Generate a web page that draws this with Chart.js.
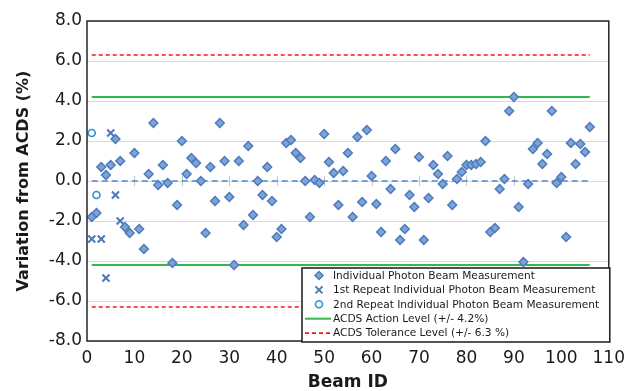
<!DOCTYPE html>
<html>
<head>
<meta charset="utf-8">
<script src="https://cdn.jsdelivr.net/npm/chart.js@4.4.1/dist/chart.umd.min.js"></script>
<style>
  html, body { margin: 0; padding: 0; background: #fff; }
  #wrap { width: 632px; height: 391px; }
</style>
</head>
<body>
<div id="wrap"><canvas id="beamChart" width="632" height="391"></canvas></div>
<script>
// beam IDs (x) and variation from ACDS in % (y)
const beamIds = [
  1, 2, 3, 4, 5, 6, 7, 8, 9, 10, 11, 12, 13, 14, 15, 16, 17, 18, 19, 20,
  21, 22, 23, 24, 25, 26, 27, 28, 29, 30, 31, 32, 33, 34, 35, 36, 37, 38, 39, 40,
  41, 42, 43, 44, 45, 46, 47, 48, 49, 50, 51, 52, 53, 54, 55, 56, 57, 58, 59, 60,
  61, 62, 63, 64, 65, 66, 67, 68, 69, 70, 71, 72, 73, 74, 75, 76, 77, 78, 79, 80,
  81, 82, 83, 84, 85, 86, 87, 88, 89, 90, 91, 92, 93, 94, 95, 96, 97, 98, 99, 100,
  101, 102, 103, 104, 105, 106
];
const variation = [
  -1.8, -1.6, 0.7, 0.3, 0.8, 2.1, 1.0, -2.3, -2.6, 1.4,
  -2.4, -3.4, 0.35, 2.9, -0.2, 0.8, -0.1, -4.1, -1.2, 2.0,
  0.35, 1.15, 0.9, 0.0, -2.6, 0.7, -1.0, 2.9, 1.0, -0.8,
  -4.2, 1.0, -2.2, 1.75, -1.7, 0.0, -0.7, 0.7, -1.0, -2.8,
  -2.4, 1.9, 2.05, 1.4, 1.15, 0.0, -1.8, 0.05, -0.1, 2.35,
  0.95, 0.4, -1.2, 0.5, 1.4, -1.8, 2.2, -1.05, 2.55, 0.25,
  -1.15, -2.55, 1.0, -0.4, 1.6, -2.95, -2.4, -0.7, -1.3, 1.2,
  -2.95, -0.85, 0.8, 0.35, -0.15, 1.25, -1.2, 0.1, 0.45, 0.8,
  0.8, 0.85, 0.95, 2.0, -2.55, -2.35, -0.4, 0.1, 3.5, 4.2,
  -1.3, -4.05, -0.15, 1.6, 1.9, 0.85, 1.35, 3.5, -0.1, 0.2,
  -2.8, 1.9, 0.85, 1.85, 1.45, 2.7
];

const repeat1Ids = [1, 3, 4, 5, 6, 7];
const repeat1Values = [-2.9, -2.9, -4.85, 2.4, -0.7, -2.0];
const repeat2Ids = [1, 2];
const repeat2Values = [2.4, -0.7];

const actionLevel = 4.2;
const toleranceLevel = 6.3;
const levelBeams = [1, 106];   // first and last beam, where the level lines run

const yTicks = [-8, -6, -4, -2, 0, 2, 4, 6, 8];
const xTicks = [0, 10, 20, 30, 40, 50, 60, 70, 80, 90, 100, 110];

const labels = {
  single: "Individual Photon Beam Measurement",
  rep1: "1st Repeat Individual Photon Beam Measurement",
  rep2: "2nd Repeat Individual Photon Beam Measurement",
  action: "ACDS Action Level (+/- 4.2%)",
  tolerance: "ACDS Tolerance Level (+/- 6.3 %)"
};

const diamondFill = "#7ea3d8";
const diamondEdge = "#4f7cbc";
const crossColor = "#4a78b8";
const ringColor = "#2f8fd0";
const green = "#33b84f";
const red = "#ff1414";
const zeroBlue = "#4f89cc";

const toPts = (xs, ys) => xs.map((x, i) => ({ x: x, y: ys[i] }));
const levelLine = (v) => levelBeams.map((b) => ({ x: b, y: v }));

// little gray marks where the x axis crosses zero
const zeroTicks = {
  id: "zeroTicks",
  beforeDatasetsDraw(chart) {
    const { ctx, scales: { x, y } } = chart;
    const y0 = y.getPixelForValue(0);
    ctx.save();
    ctx.strokeStyle = "#c4c4c4";
    ctx.lineWidth = 1;
    xTicks.slice(1, -1).forEach((v) => {
      const px = Math.round(x.getPixelForValue(v)) + 0.5;
      ctx.beginPath();
      ctx.moveTo(px, y0 - 5);
      ctx.lineTo(px, y0 + 5);
      ctx.stroke();
    });
    ctx.restore();
  }
};

// frame round the plot + boxed legend in the bottom right corner
const frameAndLegend = {
  id: "frameAndLegend",
  afterDraw(chart) {
    const { ctx, chartArea: a } = chart;
    ctx.save();
    ctx.strokeStyle = "#262626";
    ctx.lineWidth = 1.5;
    ctx.strokeRect(a.left, a.top, a.right - a.left, a.bottom - a.top);

    const left = 302, top = 268, right = a.right + 1, bottom = a.bottom + 1;
    ctx.fillStyle = "#fff";
    ctx.fillRect(left, top, right - left, bottom - top);
    ctx.strokeStyle = "#262626";
    ctx.lineWidth = 1.6;
    ctx.strokeRect(left, top, right - left, bottom - top);

    const items = [
      { text: labels.single, kind: "diamond" },
      { text: labels.rep1, kind: "cross" },
      { text: labels.rep2, kind: "ring" },
      { text: labels.action, kind: "solid" },
      { text: labels.tolerance, kind: "dashed" }
    ];
    const mx = 319, lx0 = 305, lx1 = 331, tx = 333;
    ctx.font = "10.6px 'DejaVu Sans'";
    ctx.textBaseline = "middle";
    items.forEach((it, i) => {
      const yy = 275.5 + i * 14.4;
      ctx.save();
      if (it.kind === "diamond") {
        ctx.beginPath();
        ctx.moveTo(mx, yy - 4); ctx.lineTo(mx + 4, yy); ctx.lineTo(mx, yy + 4); ctx.lineTo(mx - 4, yy);
        ctx.closePath();
        ctx.fillStyle = diamondFill; ctx.strokeStyle = diamondEdge; ctx.lineWidth = 1.5;
        ctx.fill(); ctx.stroke();
      } else if (it.kind === "cross") {
        ctx.strokeStyle = crossColor; ctx.lineWidth = 2;
        ctx.beginPath();
        ctx.moveTo(mx - 3.5, yy - 3.5); ctx.lineTo(mx + 3.5, yy + 3.5);
        ctx.moveTo(mx + 3.5, yy - 3.5); ctx.lineTo(mx - 3.5, yy + 3.5);
        ctx.stroke();
      } else if (it.kind === "ring") {
        ctx.strokeStyle = ringColor; ctx.lineWidth = 1.6;
        ctx.beginPath(); ctx.arc(mx, yy, 3.5, 0, Math.PI * 2); ctx.stroke();
      } else {
        ctx.strokeStyle = it.kind === "solid" ? green : red;
        ctx.lineWidth = it.kind === "solid" ? 2 : 1.6;
        if (it.kind === "dashed") ctx.setLineDash([4, 3]);
        ctx.beginPath(); ctx.moveTo(lx0, yy); ctx.lineTo(lx1, yy); ctx.stroke();
      }
      ctx.restore();
      ctx.fillStyle = "#1a1a1a";
      ctx.fillText(it.text, tx, yy + 0.5);
    });
    ctx.restore();
  }
};

const ctx = document.getElementById("beamChart").getContext("2d");

new Chart(ctx, {
  type: "scatter",
  data: {
    datasets: [
      {
        label: labels.single,
        data: toPts(beamIds, variation),
        pointStyle: "rectRot",
        pointRadius: 4.4,
        backgroundColor: diamondFill,
        borderColor: diamondEdge,
        borderWidth: 1.5
      },
      {
        label: labels.rep1,
        data: toPts(repeat1Ids, repeat1Values),
        pointStyle: "crossRot",
        pointRadius: 5,
        borderColor: crossColor,
        borderWidth: 2
      },
      {
        label: labels.rep2,
        data: toPts(repeat2Ids, repeat2Values),
        pointStyle: "circle",
        pointRadius: 3.5,
        backgroundColor: "#fff",
        borderColor: ringColor,
        borderWidth: 1.6
      },
      {
        label: labels.action,
        data: levelLine(actionLevel),
        showLine: true, pointRadius: 0, borderColor: green, borderWidth: 2
      },
      {
        label: labels.action,
        data: levelLine(-actionLevel),
        showLine: true, pointRadius: 0, borderColor: green, borderWidth: 2
      },
      {
        label: labels.tolerance,
        data: levelLine(toleranceLevel),
        showLine: true, pointRadius: 0, borderColor: red, borderWidth: 1.6, borderDash: [4, 3]
      },
      {
        label: labels.tolerance,
        data: levelLine(-toleranceLevel),
        showLine: true, pointRadius: 0, borderColor: red, borderWidth: 1.6, borderDash: [4, 3]
      },
      {
        label: "zero",
        data: levelLine(0),
        showLine: true, pointRadius: 0, borderColor: zeroBlue, borderWidth: 1.5, borderDash: [6, 4]
      }
    ]
  },
  options: {
    responsive: false,
    animation: false,
    layout: { padding: { top: 21, right: 18, left: 0, bottom: 0 } },
    plugins: {
      legend: { display: false },
      tooltip: { enabled: false }
    },
    scales: {
      x: {
        type: "linear",
        min: 0,
        max: 110,
        afterBuildTicks: (s) => { s.ticks = xTicks.map((v) => ({ value: v })); },
        afterFit: (s) => { s.height = 50; },
        grid: { display: false, drawTicks: false },
        border: { display: false },
        ticks: {
          padding: 7,
          maxRotation: 0,
          color: "#1a1a1a",
          font: { family: "'DejaVu Sans'", size: 17 }
        },
        title: {
          display: true,
          text: "Beam ID",
          color: "#1a1a1a",
          padding: { top: 0, bottom: 0 },
          font: { family: "'DejaVu Sans'", size: 17, weight: "bold", lineHeight: 1 }
        }
      },
      y: {
        min: -8,
        max: 8,
        afterBuildTicks: (s) => { s.ticks = yTicks.map((v) => ({ value: v })); },
        afterFit: (s) => { s.width = 87; },
        grid: { color: "#d9d9d9", lineWidth: 1, drawTicks: false },
        border: { display: false },
        ticks: {
          padding: 5,
          color: "#1a1a1a",
          font: { family: "'DejaVu Sans'", size: 17 },
          callback: (v) => Number(v).toFixed(1)
        },
        title: {
          display: true,
          text: "Variation from ACDS (%)",
          color: "#1a1a1a",
          padding: { top: 14, bottom: 0 },
          font: { family: "'DejaVu Sans'", size: 16, weight: "bold" }
        }
      }
    }
  },
  plugins: [zeroTicks, frameAndLegend]
});
</script>
</body>
</html>
